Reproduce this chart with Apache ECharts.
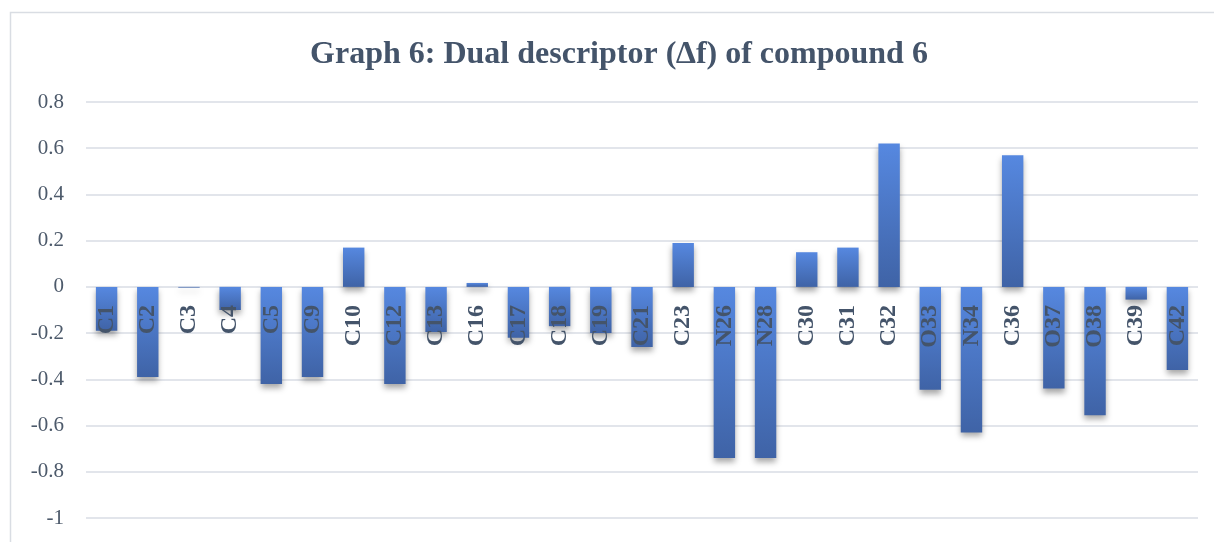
<!DOCTYPE html>
<html lang="en">
<head>
    <meta charset="UTF-8">
    <title>Graph 6</title>
    <script type="text/javascript" src="https://cdn.jsdelivr.net/npm/echarts@6/dist/echarts.min.js"></script>
    <style>
        html, body { margin: 0; padding: 0; background: #fff; }
        #chart { width: 1214px; height: 542px; }
    </style>
</head>
<body>
    <div id="chart"></div>
    <script>
        // atoms and their dual descriptor values
        var atoms = ['C1', 'C2', 'C3', 'C4', 'C5', 'C9', 'C10', 'C12', 'C13', 'C16', 'C17', 'C18', 'C19', 'C21',
            'C23', 'N26', 'N28', 'C30', 'C31', 'C32', 'O33', 'N34', 'C36', 'O37', 'O38', 'C39', 'C42'];
        var deltaF = [-0.19, -0.39, -0.003, -0.10, -0.42, -0.39, 0.17, -0.42, -0.195, 0.017, -0.22, -0.17, -0.20, -0.26,
            0.19, -0.74, -0.74, 0.15, 0.17, 0.62, -0.445, -0.63, 0.57, -0.44, -0.555, -0.055, -0.36];
        var yTicks = [-1, -0.8, -0.6, -0.4, -0.2, 0, 0.2, 0.4, 0.6, 0.8];

        var chart = echarts.init(document.getElementById('chart'));
        var option = {
            backgroundColor: '#fff',
            animation: false,
            title: {
                text: 'Graph 6: Dual descriptor (\u2206f) of compound 6',
                left: 614,
                top: 34,
                textAlign: 'center',
                textStyle: {
                    fontFamily: 'Liberation Serif',
                    fontWeight: 'bold',
                    fontSize: 32,
                    color: '#44546A'
                }
            },
            graphic: [{
                type: 'rect',
                shape: { x: 10.5, y: 12.5, width: 1220, height: 560 },
                style: { fill: 'none', stroke: '#d9dde3', lineWidth: 1.5 },
                silent: true
            }],
            grid: { left: 86, right: 16, top: 102, bottom: 24, containLabel: false, outerBoundsMode: 'none' },
            xAxis: {
                type: 'category',
                data: atoms,
                z: 10,
                // zero line sits 0.8/1.8 of the way up; labels hang just below it
                offset: -231,
                axisLine: { show: false },
                axisTick: { show: false },
                axisLabel: {
                    rotate: 90,
                    margin: 18,
                    fontFamily: 'Liberation Serif',
                    fontWeight: 'bold',
                    fontSize: 24,
                    color: '#44546A'
                }
            },
            yAxis: {
                type: 'value',
                min: yTicks[0],
                max: yTicks[yTicks.length - 1],
                interval: 0.2,
                axisLine: { show: false },
                axisTick: { show: false },
                splitLine: { lineStyle: { color: '#d9dde5', width: 1.5 } },
                axisLabel: {
                    margin: 22,
                    fontFamily: 'Liberation Serif',
                    fontSize: 21,
                    color: '#4d5a6b',
                    formatter: function (v) { return String(Math.round(v * 10) / 10); }
                }
            },
            series: [{
                type: 'bar',
                data: deltaF,
                barWidth: '52%',
                itemStyle: {
                    color: new echarts.graphic.LinearGradient(0, 0, 0, 1, [
                        { offset: 0, color: '#5688e0' },
                        { offset: 1, color: '#3f63a6' }
                    ]),
                    shadowColor: 'rgba(0,0,0,0.35)',
                    shadowBlur: 6,
                    shadowOffsetY: 4
                }
            }]
        };
        chart.setOption(option);
    </script>
</body>
</html>
